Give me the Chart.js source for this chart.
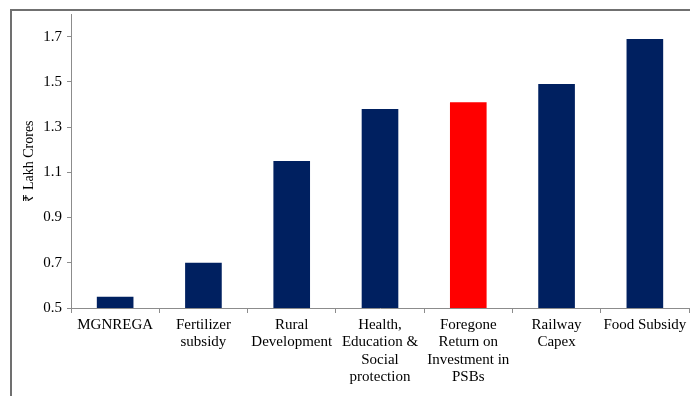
<!DOCTYPE html>
<html>
<head>
<meta charset="utf-8">
<script src="https://cdn.jsdelivr.net/npm/chart.js@4"></script>
<style>
  html, body { margin: 0; padding: 0; background: #fff; }
  #wrap { position: relative; width: 690px; height: 396px; overflow: hidden; }
  #frame { position: absolute; left: 10px; top: 9px; width: 720px; height: 420px;
           border-left: 2px solid #707070; border-top: 2px solid #707070; }
  canvas { position: absolute; left: 0; top: 0; }
</style>
</head>
<body>
<div id="wrap">
  <div id="frame"></div>
  <canvas id="chart" width="690" height="396"></canvas>
</div>
<script>
// categories (multi-line labels as they wrap in the picture)
const categories = [
    ['MGNREGA'],
    ['Fertilizer', 'subsidy'],
    ['Rural', 'Development'],
    ['Health,', 'Education &', 'Social', 'protection'],
    ['Foregone', 'Return on', 'Investment in', 'PSBs'],
    ['Railway', 'Capex'],
    ['Food Subsidy']
];
// ₹ lakh crores
const values = [0.55, 0.70, 1.15, 1.38, 1.41, 1.49, 1.69];
const barColors = ['#002060', '#002060', '#002060', '#002060', '#FF0000', '#002060', '#002060'];
const yTicks = [0.5, 0.7, 0.9, 1.1, 1.3, 1.5, 1.7];
const yMin = 0.5;
const yMax = 1.8;

document.addEventListener('DOMContentLoaded', () => {
    const ctx = document.getElementById('chart');
    const font = 'Liberation Serif, Times New Roman, serif';

    new Chart(ctx, {
        type: 'bar',
        data: {
            labels: categories,
            datasets: [{
                data: values,
                backgroundColor: barColors,
                borderWidth: 0,
                categoryPercentage: 1,
                barPercentage: 0.415
            }]
        },
        options: {
            responsive: false,
            animation: false,
            layout: { padding: { left: 12, top: 13, right: 1, bottom: 0 } },
            plugins: {
                legend: { display: false },
                tooltip: { enabled: false }
            },
            scales: {
                x: {
                    grid: {
                        offset: true,
                        drawOnChartArea: false,
                        tickLength: 5,
                        color: '#8c8c8c'
                    },
                    border: { color: '#8c8c8c', width: 1 },
                    ticks: {
                        color: '#000',
                        font: { family: font, size: 15, lineHeight: 1.17 },
                        padding: 3,
                        maxRotation: 0,
                        autoSkip: false
                    },
                    afterFit: scale => { scale.height = 88; }
                },
                y: {
                    min: yMin,
                    max: yMax,
                    afterBuildTicks: scale => {
                        scale.ticks = yTicks.map(v => ({ value: v }));
                    },
                    grid: {
                        drawOnChartArea: false,
                        tickLength: 4,
                        color: '#8c8c8c'
                    },
                    border: { color: '#8c8c8c', width: 1 },
                    ticks: {
                        color: '#000',
                        font: { family: font, size: 15 },
                        padding: 5,
                        callback: v => Number(v).toFixed(1)
                    },
                    title: {
                        display: true,
                        text: '₹ Lakh Crores',
                        color: '#000',
                        font: { family: font, size: 14 },
                        padding: { top: 9, bottom: 0 }
                    },
                    afterFit: scale => { scale.width = 59; }
                }
            }
        }
    });
});
</script>
</body>
</html>
